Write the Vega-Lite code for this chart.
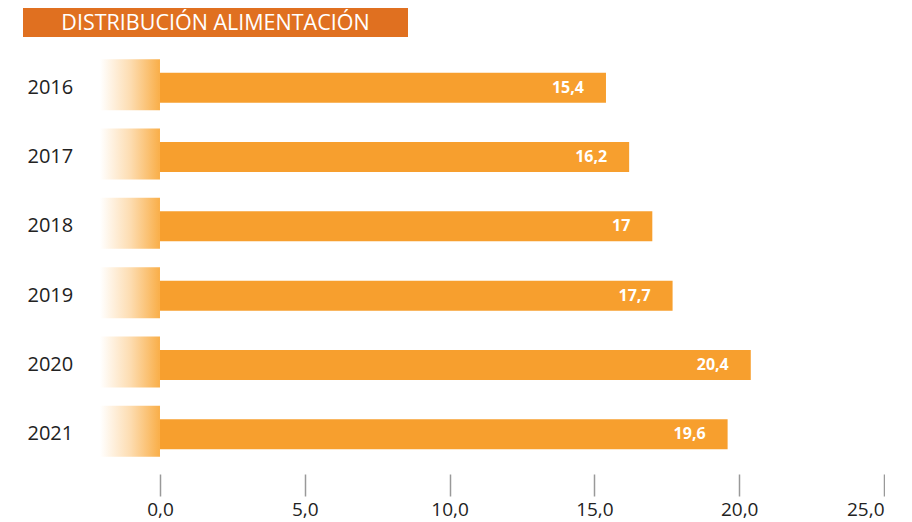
{
  "$schema": "https://vega.github.io/schema/vega-lite/v6.json",
  "autosize": {"type": "pad"},
  "padding": {"left": 23, "top": 8, "right": 0, "bottom": 3},
  "background": "white",
  "spacing": 16,
  "config": {"view": {"stroke": null}, "font": "Open Sans"},
  "vconcat": [
    {
      "width": 385,
      "height": 29,
      "view": {"fill": "#E07020", "stroke": null},
      "data": {"values": [{"t": "DISTRIBUCIÓN ALIMENTACIÓN"}]},
      "mark": {"type": "text", "color": "white", "font": "Open Sans", "fontSize": 21.5, "fontWeight": 500, "align": "center", "baseline": "middle", "dy": 1},
      "encoding": {"text": {"field": "t", "type": "nominal"}}
    },
    {
      "width": 861,
      "height": 416,
      "data": {"values": [
        {"year": "2016", "value": 15.4},
        {"year": "2017", "value": 16.2},
        {"year": "2018", "value": 17},
        {"year": "2019", "value": 17.7},
        {"year": "2020", "value": 20.4},
        {"year": "2021", "value": 19.6}
      ]},
      "transform": [{"calculate": "replace(toString(datum.value), '.', ',')", "as": "label"}],
      "encoding": {
        "y": {"field": "year", "type": "ordinal", "sort": null,
          "scale": {"paddingInner": 0, "paddingOuter": 0},
          "axis": {"title": null, "domain": false, "ticks": false, "labelAlign": "left", "labelPadding": -4, "labelFontSize": 20, "labelColor": "#222222", "labelFont": "Open Sans"}}
      },
      "layer": [
        {
          "mark": {"type": "bar", "height": {"band": 0.736}, "yOffset": -3,
            "color": {"gradient": "linear", "x1": 0, "y1": 0, "x2": 1, "y2": 0,
              "stops": [{"offset": 0, "color": "#FFFFFF"}, {"offset": 0.5, "color": "#FDDDB2"}, {"offset": 1, "color": "#F9AE48"}]}},
          "encoding": {
            "x": {"datum": -2.07, "type": "quantitative",
              "scale": {"domain": [-4.73, 25], "nice": false, "zero": false},
              "axis": {"values": [0, 5, 10, 15, 20, 25], "labelExpr": "replace(format(datum.value, '.1f'), '.', ',')", "title": null, "domain": false, "grid": false, "tickColor": "#999999", "tickSize": 22, "tickWidth": 1.5, "offset": 5, "labelFontSize": 19, "labelColor": "#222222", "labelFont": "Open Sans", "labelPadding": 19, "labelBaseline": "alphabetic"}},
            "x2": {"datum": 0}
          }
        },
        {
          "mark": {"type": "bar", "height": 30, "color": "#F79F2E"},
          "encoding": {
            "x": {"field": "value", "type": "quantitative"}
          }
        },
        {
          "mark": {"type": "text", "color": "white", "fontWeight": "bold", "fontSize": 16, "font": "Open Sans", "align": "right", "dx": -22, "baseline": "middle"},
          "encoding": {
            "x": {"field": "value", "type": "quantitative"},
            "text": {"field": "label"}
          }
        }
      ]
    }
  ]
}
